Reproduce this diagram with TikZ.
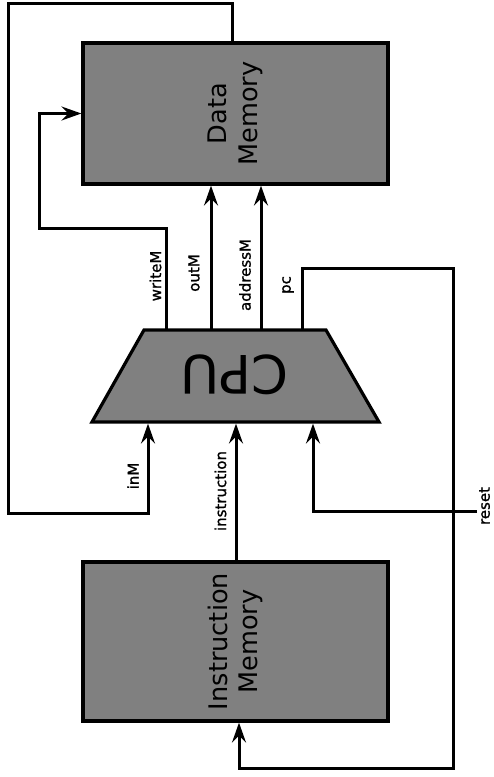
\documentclass[tikz,border=0pt]{standalone}
\usepackage{fontspec}
\setmainfont{DejaVu Sans}
\newfontfamily\signalfont[FakeBold=1.2]{DejaVu Sans}
\usetikzlibrary{arrows.meta}
\definecolor{blockgray}{RGB}{128,128,128}
\begin{document}
\begin{tikzpicture}[x=1pt,y=1pt,
  blockbox/.style={draw=black, line width=3.2pt, fill=blockgray, rectangle, inner sep=0pt},
  blocktext/.style={font=\fontsize{25.6}{30.5}\selectfont, align=center, inner sep=0pt},
  wire/.style={line width=3pt, line join=miter},
  arrowwire/.style={wire, -{Stealth[length=20pt,width=14pt,inset=7pt]}},
  sig/.style={font=\signalfont\fontsize{15}{18}\selectfont, rotate=90, inner sep=0pt}]

  % canvas
  \useasboundingbox (0,0) rectangle (493,-777);

  % memories
  \node[blockbox, minimum width=305pt, minimum height=141pt] (dm) at (235.5,-113.5) {};
  \node[blocktext, rotate=90] (dmtext) at (dm.center) {Data\\Memory};
  \node[blockbox, minimum width=305pt, minimum height=159pt] (im) at (235.5,-641.5) {};
  \node[blocktext, rotate=90] (imtext) at (im.center) {Instruction\\Memory};

  % CPU trapezoid
  \coordinate (cpuTL) at (144,-330);
  \coordinate (cpuTR) at (326,-330);
  \coordinate (cpuBR) at (379,-422);
  \coordinate (cpuBL) at (92,-422);
  \draw[blockbox] (cpuTL) -- (cpuTR) -- (cpuBR) -- (cpuBL) -- cycle;
  \node[font=\fontsize{53}{60}\selectfont, rotate=180, inner sep=0pt] (cpu) at (235,-375) {CPU};

  % CPU ports
  \coordinate (wM) at (166,-330);
  \coordinate (oM) at (211,-330);
  \coordinate (aM) at (261,-330);
  \coordinate (pcOut) at (302,-330);
  \coordinate (inMin) at (148,-423.6);
  \coordinate (insIn) at (236,-423.6);
  \coordinate (rstIn) at (313,-423.6);
  \coordinate (fbx) at (232,0);
  \coordinate (pcx) at (239,0);
  \coordinate (rstSrc) at (477,-511);

  % data memory connections
  \draw[arrowwire] (wM) |- (39,-228) |- (dm.west);
  \draw[arrowwire] (oM) -- (oM |- dm.south);
  \draw[arrowwire] (aM) -- (aM |- dm.south);
  \draw[arrowwire] (dm.north -| fbx) |- (8,-3) |- (148,-513) -- (inMin);

  % program counter and instruction path
  \draw[arrowwire] (pcOut) |- (453,-268) |- (239,-768) -- (im.south -| pcx);
  \draw[arrowwire] (im.north -| insIn) -- (insIn);
  \draw[arrowwire] (rstSrc) -| (rstIn);

  % signal names
  \node[sig] (lwriteM) at (155.5,-276) {writeM};
  \node[sig] (loutM) at (194,-273) {outM};
  \node[sig] (laddressM) at (245,-275) {addressM};
  \node[sig] (lpc) at (288,-285) {pc};
  \node[sig] (linM) at (133,-476) {inM};
  \node[sig] (linstr) at (220.5,-491) {instruction};
  \node[sig] (lreset) at (484.5,-506) {reset};
\end{tikzpicture}
\end{document}
